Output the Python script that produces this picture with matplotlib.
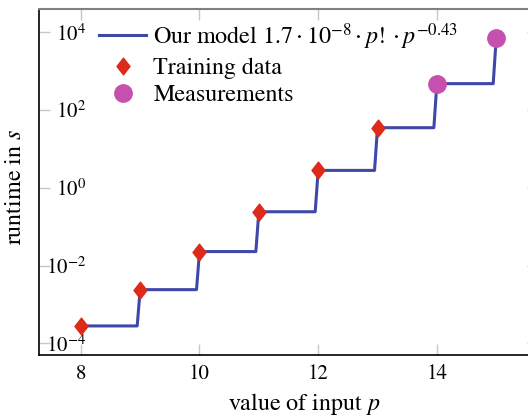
import numpy as np
import matplotlib
matplotlib.use('Agg')
import matplotlib.pyplot as plt
from matplotlib.path import Path
from matplotlib.ticker import FixedLocator, NullLocator, FuncFormatter

plt.rcParams['font.family'] = 'serif'
plt.rcParams['font.serif'] = ['STIXGeneral', 'Liberation Serif', 'DejaVu Serif']
plt.rcParams['mathtext.fontset'] = 'stix'

# Data
p_model = [8, 9, 10, 11, 12, 13, 14, 15]
runtime_model = [2.8e-4, 2.4e-3, 2.29e-2, 0.242, 2.80, 35.1, 477, 6940]

p_train = [8, 9, 10, 11, 12, 13]
runtime_train = [2.8e-4, 2.4e-3, 2.29e-2, 0.242, 2.80, 35.1]

p_meas = [14, 15]
runtime_meas = [477, 6940]

yticks = [1e-4, 1e-2, 1e0, 1e2, 1e4]
xticks = [8, 10, 12, 14]

# staircase: model evaluated at floor(p), sampled every 0.05
x_dense = np.linspace(p_model[0], p_model[-1], 141)
idx = np.floor(np.round(x_dense * 20) / 20 + 1e-9).astype(int) - p_model[0]
y_dense = np.array(runtime_model)[idx]

fig = plt.figure(figsize=(5.28, 4.2), dpi=100)
ax = fig.add_axes([0.0744, 0.1548, 0.944, 0.823])

diamond = Path([(0, 1), (0.78, 0), (0, -1), (-0.78, 0), (0, 1)],
               [Path.MOVETO, Path.LINETO, Path.LINETO, Path.LINETO, Path.CLOSEPOLY])

ax.plot(x_dense, y_dense, color='#3f48a9', lw=2.2, zorder=2,
        label=r'Our model $1.7\cdot 10^{-8}\cdot p!\cdot p^{-0.43}$')
ax.plot(p_train, runtime_train, ls='none', marker=diamond, ms=12,
        color='#dd2a1a', zorder=3, label='Training data')
ax.plot(p_meas, runtime_meas, ls='none', marker='o', ms=12.5,
        color='#c550ad', zorder=3, label='Measurements')

ax.set_yscale('log')
ax.set_xlim(7.3, 15.7)
ax.set_ylim(10**-4.30, 10**4.59)
ax.xaxis.set_major_locator(FixedLocator(xticks))
ax.yaxis.set_major_locator(FixedLocator(yticks))
ax.yaxis.set_minor_locator(NullLocator())
ax.xaxis.set_minor_locator(NullLocator())
ax.yaxis.set_major_formatter(FuncFormatter(lambda v, pos: r'$10^{%d}$' % round(np.log10(v))))

ax.tick_params(which='both', direction='in', top=True, right=True,
               length=8, width=1, color='0.78', labelsize=15)
ax.tick_params(axis='y', pad=-33.6)
ax.tick_params(axis='x', pad=7)

for s in ['left', 'bottom']:
    ax.spines[s].set_color('black')
    ax.spines[s].set_linewidth(1.2)
ax.spines['top'].set_color('0.5')
ax.spines['top'].set_linewidth(1.5)

ax.set_xlabel(r'value of input $p$', fontsize=17.3)
ax.set_ylabel(r'runtime in $s$', fontsize=17.3)
ax.xaxis.set_label_coords(0.532, -0.105)
ax.yaxis.set_label_coords(-0.027, 0.486)

ax.legend(loc='upper left', bbox_to_anchor=(0.12, 0.966), frameon=False,
          fontsize=17.3, borderpad=0, borderaxespad=0, handlelength=1.96,
          handletextpad=0.3, labelspacing=0.23, numpoints=1)

fig.savefig('out.png', dpi=100)
